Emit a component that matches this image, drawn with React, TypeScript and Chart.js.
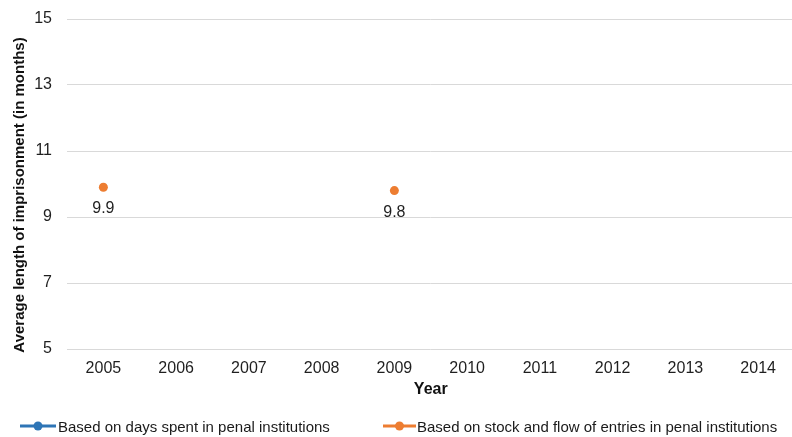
import React, { useEffect, useRef } from "react";
import { Chart, registerables } from "chart.js";

Chart.register(...registerables);

const years = ["2005", "2006", "2007", "2008", "2009", "2010", "2011", "2012", "2013", "2014"];
const daysSpent: (number | null)[] = [null, null, null, null, null, null, null, null, null, null];
const stockFlow: (number | null)[] = [9.9, null, null, null, 9.8, null, null, null, null, null];
const seriesNames = [
  "Based on days spent in penal institutions",
  "Based on stock and flow of entries in penal institutions",
];
const seriesColors = ["#2E75B6", "#ED7D31"];
const yTitle = "Average length of imprisonment (in months)";
const xTitle = "Year";

const FONT = "'Liberation Sans', Arial, sans-serif";

const labelPlugin = {
  id: "valueLabels",
  afterDatasetsDraw(chart: any) {
    const ctx = chart.ctx;
    ctx.save();
    ctx.font = `16px ${FONT}`;
    ctx.fillStyle = "#1f1f1f";
    ctx.textAlign = "center";
    ctx.textBaseline = "middle";
    chart.data.datasets.forEach((ds: any, di: number) => {
      const meta = chart.getDatasetMeta(di);
      ds.data.forEach((v: number | null, i: number) => {
        if (v == null) return;
        const el = meta.data[i];
        ctx.fillText(v.toFixed(1), el.x, el.y + 21.5);
      });
    });
    ctx.restore();
  },
};

const yTitlePlugin = {
  id: "yTitleDraw",
  afterDraw(chart: any) {
    const ctx = chart.ctx;
    const area = chart.chartArea;
    ctx.save();
    ctx.font = `bold 15px ${FONT}`;
    ctx.fillStyle = "#111";
    ctx.textAlign = "center";
    ctx.textBaseline = "middle";
    ctx.translate(20, (area.top + area.bottom) / 2 + 11);
    ctx.rotate(-Math.PI / 2);
    ctx.fillText(yTitle, 0, 0);
    ctx.restore();
  },
};

export default function App() {
  const ref = useRef<HTMLCanvasElement | null>(null);
  useEffect(() => {
    if (!ref.current) return;
    const chart = new Chart(ref.current, {
      type: "line",
      data: {
        labels: years,
        datasets: [
          {
            label: seriesNames[0],
            data: daysSpent,
            borderColor: seriesColors[0],
            backgroundColor: seriesColors[0],
            borderWidth: 3,
            pointRadius: 4.5,
            pointBorderWidth: 0,
            spanGaps: false,
          },
          {
            label: seriesNames[1],
            data: stockFlow,
            borderColor: seriesColors[1],
            backgroundColor: seriesColors[1],
            borderWidth: 3,
            pointRadius: 4.5,
            pointBorderWidth: 0,
            spanGaps: false,
          },
        ],
      },
      options: {
        responsive: false,
        animation: false,
        layout: { padding: { top: 19, bottom: 32, left: 0, right: 0 } },
        plugins: {
          legend: { display: false },
          tooltip: { enabled: false },
        },
        scales: {
          x: {
            type: "category",
            offset: true,
            grid: { display: false, drawTicks: false },
            border: { display: false },
            ticks: {
              color: "#1f1f1f",
              font: { family: FONT, size: 16 },
              padding: 10,
              maxRotation: 0,
              autoSkip: false,
            },
            title: {
              display: true,
              text: xTitle,
              color: "#111",
              font: { family: FONT, size: 16, weight: "bold" },
              padding: { top: 0, bottom: 6 },
            },
            afterFit(scale: any) {
              scale.height = 56;
            },
          },
          y: {
            min: 5,
            max: 15,
            ticks: {
              stepSize: 2,
              color: "#1f1f1f",
              font: { family: FONT, size: 16 },
              padding: 15,
            },
            grid: { color: "#D9D9D9", lineWidth: 1, drawTicks: false },
            border: { display: false },
            title: { display: false },
            afterFit(scale: any) {
              scale.width = 67;
              scale.paddingTop = 0;
              scale.paddingBottom = 0;
            },
          },
        },
      },
      plugins: [labelPlugin, yTitlePlugin],
    } as any);
    return () => chart.destroy();
  }, []);

  const legendText: React.CSSProperties = {
    position: "absolute",
    top: 418,
    fontFamily: FONT,
    fontSize: 15,
    color: "#1a1a1a",
    lineHeight: "18px",
    whiteSpace: "nowrap",
  };

  const marker = (color: string, left: number, width: number) => (
    <svg
      style={{ position: "absolute", left, top: 420 }}
      width={width}
      height={12}
    >
      <line x1={0} y1={6} x2={width} y2={6} stroke={color} strokeWidth={3} />
      <circle cx={width / 2} cy={6} r={4.5} fill={color} />
    </svg>
  );

  return (
    <div
      style={{
        position: "fixed",
        left: 0,
        top: 0,
        width: 799,
        height: 437,
        background: "#fff",
      }}
    >
      <canvas ref={ref} width={799} height={437} style={{ width: 799, height: 437, display: "block" }} />
      {marker(seriesColors[0], 20, 36)}
      <div style={{ ...legendText, left: 58 }}>{seriesNames[0]}</div>
      {marker(seriesColors[1], 383, 33)}
      <div style={{ ...legendText, left: 417 }}>{seriesNames[1]}</div>
    </div>
  );
}
